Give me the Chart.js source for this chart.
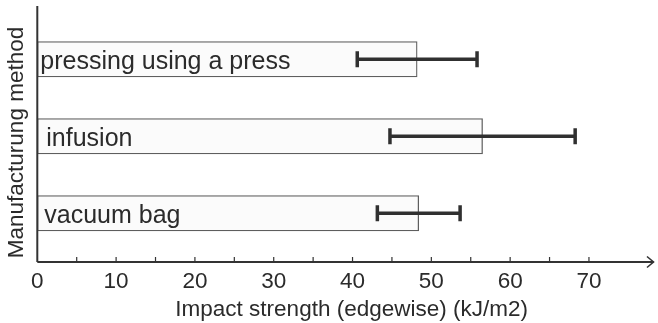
<!DOCTYPE html>
<html>
<head>
<meta charset="utf-8">
<script src="https://cdn.jsdelivr.net/npm/chart.js@4"></script>
<style>
  html, body { margin: 0; padding: 0; background: #fff; }
</style>
</head>
<body>
<canvas id="impactChart" width="658" height="323"></canvas>
<script>
// Impact strength (edgewise) by manufacturing method, mean +/- std. deviation
const methods = ['pressing using a press', 'infusion', 'vacuum bag'];
const meanStrength = [48.2, 56.5, 48.4];
const stdDev = [7.6, 11.75, 5.25];
const xTickLabels = [0, 10, 20, 30, 40, 50, 60, 70];
const xTitle = 'Impact strength (edgewise) (kJ/m2)';

const INK = '#2b2b2b';
const FONT = "'Liberation Sans', Arial, sans-serif";

// Axis lines, tick marks, arrow head, error bars and in-bar labels
const decorPlugin = {
    id: 'decor',
    afterDatasetsDraw(chart) {
        const ctx = chart.ctx;
        const x = chart.scales.x;
        const y = chart.scales.y;
        const labelInset = [3, 9, 7];

        ctx.save();
        // error bars
        ctx.strokeStyle = '#303030';
        ctx.lineWidth = 3.5;
        methods.forEach((m, i) => {
            const cy = y.getPixelForValue(i + 1);
            const lo = x.getPixelForValue(meanStrength[i] - stdDev[i]);
            const hi = x.getPixelForValue(meanStrength[i] + stdDev[i]);
            ctx.beginPath();
            ctx.moveTo(lo, cy);
            ctx.lineTo(hi, cy);
            ctx.moveTo(lo, cy - 8);
            ctx.lineTo(lo, cy + 8);
            ctx.moveTo(hi, cy - 8);
            ctx.lineTo(hi, cy + 8);
            ctx.stroke();
        });

        // category names inside the bars
        ctx.fillStyle = INK;
        ctx.font = '25px ' + FONT;
        ctx.textBaseline = 'alphabetic';
        ctx.textAlign = 'left';
        methods.forEach((m, i) => {
            const cy = y.getPixelForValue(i + 1);
            ctx.fillText(m, x.getPixelForValue(0) + labelInset[i], cy + 10);
        });
        ctx.restore();
    },
    afterDraw(chart) {
        const ctx = chart.ctx;
        const area = chart.chartArea;
        const x = chart.scales.x;
        const x0 = x.getPixelForValue(0);
        const yb = area.bottom;
        const tip = area.right + 1.5;

        ctx.save();
        ctx.strokeStyle = '#333';
        ctx.lineWidth = 2;
        ctx.beginPath();
        // y axis
        ctx.moveTo(x0, 6);
        ctx.lineTo(x0, yb);
        // x axis
        ctx.moveTo(x0, yb);
        ctx.lineTo(tip, yb);
        ctx.stroke();

        // open arrow head
        ctx.lineWidth = 1.6;
        ctx.beginPath();
        ctx.moveTo(tip - 6.5, yb - 5.5);
        ctx.lineTo(tip, yb);
        ctx.lineTo(tip - 6.5, yb + 5.5);
        ctx.stroke();

        // tick marks every 5 units, pointing up
        ctx.lineWidth = 1.2;
        ctx.beginPath();
        x.ticks.forEach(t => {
            if (t.value % 5 !== 0 || t.value === 0) return;
            const px = x.getPixelForValue(t.value);
            ctx.moveTo(px, yb - 5);
            ctx.lineTo(px, yb + 1);
        });
        ctx.stroke();

        // x axis title, a little right of centre
        ctx.fillStyle = INK;
        ctx.font = '22.5px ' + FONT;
        ctx.textAlign = 'center';
        ctx.textBaseline = 'middle';
        ctx.fillText(xTitle, (x.left + x.right) / 2 + 7, x.bottom - 13.5);
        ctx.restore();
    }
};

new Chart(document.getElementById('impactChart'), {
    type: 'bar',
    data: {
        datasets: [{
            data: methods.map((m, i) => ({ x: meanStrength[i], y: i + 1 })),
            backgroundColor: '#fbfbfb',
            borderColor: '#5e5e5e',
            borderWidth: 1.3,
            borderSkipped: false,
            barThickness: 35.5
        }]
    },
    options: {
        indexAxis: 'y',
        responsive: false,
        animation: false,
        devicePixelRatio: 1,
        layout: { padding: { top: 23, right: 0, left: 0, bottom: 0 } },
        plugins: {
            legend: { display: false },
            tooltip: { enabled: false }
        },
        scales: {
            x: {
                type: 'linear',
                min: 0,
                max: 78,
                grid: { display: false, drawTicks: false },
                border: { display: false },
                afterFit: s => { s.height = 61; },
                ticks: {
                    stepSize: 5,
                    padding: 6,
                    maxRotation: 0,
                    autoSkip: false,
                    color: INK,
                    font: { family: FONT, size: 22.5 },
                    callback: v => xTickLabels.includes(v) ? String(v) : ''
                }
            },
            y: {
                type: 'linear',
                reverse: true,
                offset: false,
                bounds: 'data',
                min: 0.529,
                max: 3.633,
                grid: { display: false, drawTicks: false, offset: false },
                border: { display: false },
                afterFit: s => { s.width = 37.3; },
                ticks: { display: false },
                title: {
                    display: true,
                    text: 'Manufacturung method',
                    color: INK,
                    font: { family: FONT, size: 22.5 },
                    padding: { top: 2.8, bottom: 7.5 }
                }
            }
        }
    },
    plugins: [decorPlugin]
});
</script>
</body>
</html>
